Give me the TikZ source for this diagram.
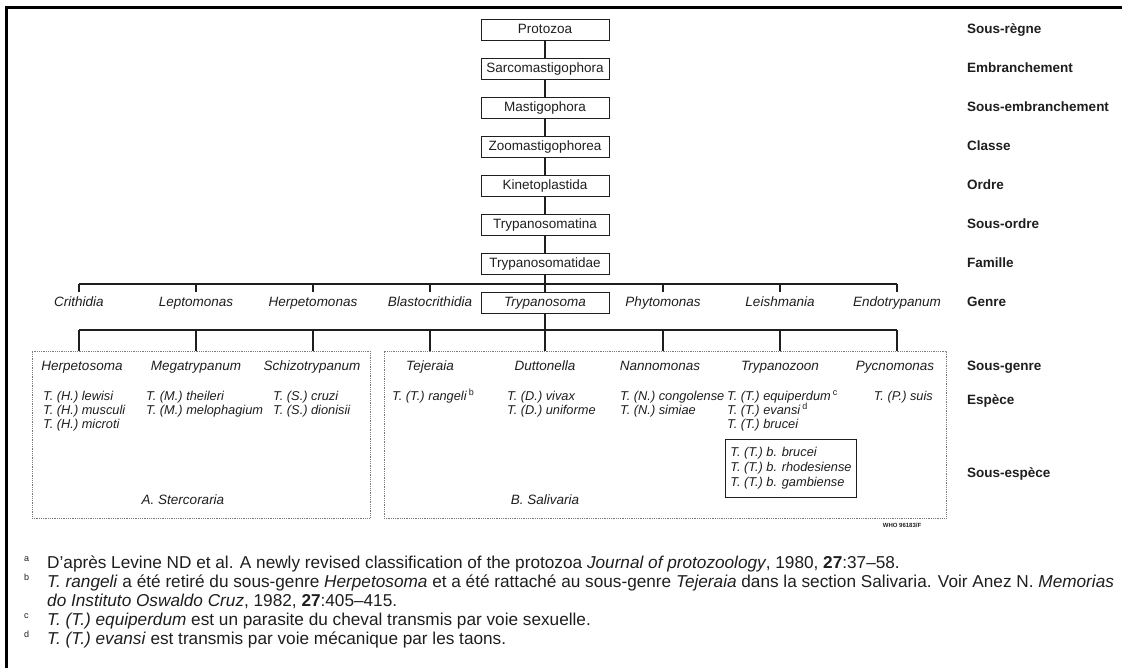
\documentclass[tikz,border=0pt]{standalone}
\usepackage{fontspec}
\setmainfont{Liberation Sans}
\definecolor{ink}{HTML}{1E1E1E}
\definecolor{dotgray}{HTML}{7A7A7A}
\begin{document}
\begin{tikzpicture}[x=1pt,y=-1pt,
  every node/.style={text=ink},
  taxbox/.style={draw=ink, line width=0.9pt, minimum width=128pt, minimum height=21pt, inner sep=0pt, text height=10pt, text depth=3pt, font=\fontsize{13.5}{16}\selectfont},
  genus/.style={inner sep=0pt, minimum height=21pt, text height=10pt, text depth=3pt, font=\fontsize{13.5}{16}\selectfont\itshape},
  rank/.style={anchor=west, inner sep=0pt, text height=10pt, text depth=3pt, font=\fontsize{13.5}{16}\selectfont\bfseries},
  species/.style={anchor=base west, inner sep=0pt, font=\fontsize{12.8}{14}\selectfont\itshape},
  section/.style={draw=dotgray, densely dotted, line width=0.8pt, inner sep=0pt},
  link/.style={draw=ink, line width=1.1pt},
  note/.style={anchor=base west, inner sep=0pt, font=\fontsize{17.2}{19}\selectfont},
  fnmark/.style={anchor=base west, inner sep=0pt, font=\fontsize{9}{10}\selectfont}
]
\useasboundingbox (0,0) rectangle (1123,668);
% frame
\draw[black, line width=3pt] (6.5,668) -- (6.5,7.5) -- (1122,7.5);

% central column
\node[taxbox] (p0) at (545,30) {Protozoa};
\node[taxbox] (p1) at (545,69) {Sarcomastigophora};
\node[taxbox] (p2) at (545,108) {Mastigophora};
\node[taxbox] (p3) at (545,147) {Zoomastigophorea};
\node[taxbox] (p4) at (545,186) {Kinetoplastida};
\node[taxbox] (p5) at (545,225) {Trypanosomatina};
\node[taxbox] (p6) at (545,264) {Trypanosomatidae};
\draw[link] (p0) -- (p1);
\draw[link] (p1) -- (p2);
\draw[link] (p2) -- (p3);
\draw[link] (p3) -- (p4);
\draw[link] (p4) -- (p5);
\draw[link] (p5) -- (p6);

% ranks
\node[rank] (r0) at (967,30) {Sous-règne};
\node[rank] (r1) at (967,69) {Embranchement};
\node[rank] (r2) at (967,108) {Sous-embranchement};
\node[rank] (r3) at (967,147) {Classe};
\node[rank] (r4) at (967,186) {Ordre};
\node[rank] (r5) at (967,225) {Sous-ordre};
\node[rank] (r6) at (967,264) {Famille};
\node[rank] (r7) at (967,303) {Genre};
\node[rank] (r8) at (967,367) {Sous-genre};
\node[rank] (r9) at (967,401) {Espèce};
\node[rank] (r10) at (967,474) {Sous-espèce};

% genera
\node[genus] (g1) at (79,303) {Crithidia};
\node[genus] (g2) at (196,303) {Leptomonas};
\node[genus] (g3) at (313,303) {Herpetomonas};
\node[genus] (g4) at (430,303) {Blastocrithidia};
\node[taxbox, font=\fontsize{13.5}{16}\selectfont\itshape] (g5) at (545,303) {Trypanosoma};
\node[genus] (g6) at (663,303) {Phytomonas};
\node[genus] (g7) at (780,303) {Leishmania};
\node[genus] (g8) at (897,303) {Endotrypanum};

\coordinate (t1) at (79,284);
\coordinate (t2) at (196,284);
\coordinate (t3) at (313,284);
\coordinate (t4) at (430,284);
\coordinate (t5) at (545,284);
\coordinate (t6) at (663,284);
\coordinate (t7) at (780,284);
\coordinate (t8) at (897,284);
\draw[link] (t1) -- (t8);
\draw[link] (p6) -- (g5);
\foreach \k in {1,2,3,4,6,7,8} { \draw[link] (t\k) -- (g\k.north); }

% sections
\node[section, minimum width=338pt, minimum height=167pt] (secA) at (201,434.5) {};
\node[section, minimum width=562pt, minimum height=167pt] (secB) at (665,434.5) {};

\coordinate (s1) at (79,330);
\coordinate (s2) at (196,330);
\coordinate (s3) at (313,330);
\coordinate (s4) at (430,330);
\coordinate (s5) at (545,330);
\coordinate (s6) at (663,330);
\coordinate (s7) at (780,330);
\coordinate (s8) at (897,330);
\draw[link] (s1) -- (s8);
\draw[link] (g5) -- (s5);
\foreach \k in {1,2,3} { \draw[link] (s\k) -- (s\k |- secA.north); }
\foreach \k in {4,5,6,7,8} { \draw[link] (s\k) -- (s\k |- secB.north); }

% subgenera
\node[genus] (sg1) at (82,367) {Herpetosoma};
\node[genus] (sg2) at (196,367) {Megatrypanum};
\node[genus] (sg3) at (312,367) {Schizotrypanum};
\node[genus] (sg4) at (430,367) {Tejeraia};
\node[genus] (sg5) at (545,367) {Duttonella};
\node[genus] (sg6) at (660,367) {Nannomonas};
\node[genus] (sg7) at (780,367) {Trypanozoon};
\node[genus] (sg8) at (895,367) {Pycnomonas};

% species
\node[species] (e11) at (43,400) {T. (H.) lewisi};
\node[species] (e12) at (43,414) {T. (H.) musculi};
\node[species] (e13) at (43,428) {T. (H.) microti};
\node[species] (e21) at (146,400) {T. (M.) theileri};
\node[species] (e22) at (146,414) {T. (M.) melophagium};
\node[species] (e31) at (273,400) {T. (S.) cruzi};
\node[species] (e32) at (273,414) {T. (S.) dionisii};
\node[species] (e41) at (392,400) {T. (T.) rangeli\,\textsuperscript{\upshape b}};
\node[species] (e51) at (507,400) {T. (D.) vivax};
\node[species] (e52) at (507,414) {T. (D.) uniforme};
\node[species] (e61) at (620,400) {T. (N.) congolense};
\node[species] (e62) at (620,414) {T. (N.) simiae};
\node[species] (e71) at (727,400) {T. (T.) equiperdum\,\textsuperscript{\upshape c}};
\node[species] (e72) at (727,414) {T. (T.) evansi\,\textsuperscript{\upshape d}};
\node[species] (e73) at (727,428) {T. (T.) brucei};
\node[species, anchor=base east] (e81) at (933,400) {T. (P.) suis};

% subspecies
\node[draw=ink, line width=0.8pt, align=left, anchor=north west, inner xsep=5pt, inner ysep=8pt,
  font=\fontsize{12.8}{15}\selectfont\itshape] (ssp) at (725,439)
  {T. (T.) b. brucei\\T. (T.) b. rhodesiense\\T. (T.) b. gambiense};

% section names
\node[genus] (na) at (183,501) {A. Stercoraria};
\node[genus] (nb) at (545,501) {B. Salivaria};
\node[inner sep=0pt, font=\fontsize{6}{7}\selectfont\bfseries] (who) at (902,525) {WHO 96183/F};

% footnotes
\node[fnmark] (fa) at (24,561) {a};
\node[note] (na1) at (47,568) {D'après Levine ND et al. A newly revised classification of the protozoa \textit{Journal of protozoology}, 1980, \textbf{27}:37–58.};
\node[fnmark] (fb) at (24,580) {b};
\node[note] (nb1) at (47,587) {\textit{T. rangeli} a été retiré du sous-genre \textit{Herpetosoma} et a été rattaché au sous-genre \textit{Tejeraia} dans la section Salivaria. Voir Anez N. \textit{Memorias}};
\node[note] (nb2) at (47,606) {\textit{do Instituto Oswaldo Cruz}, 1982, \textbf{27}:405–415.};
\node[fnmark] (fc) at (24,618) {c};
\node[note] (nc1) at (47,625) {\textit{T. (T.) equiperdum} est un parasite du cheval transmis par voie sexuelle.};
\node[fnmark] (fd) at (24,637) {d};
\node[note] (nd1) at (47,644) {\textit{T. (T.) evansi} est transmis par voie mécanique par les taons.};
\end{tikzpicture}
\end{document}
